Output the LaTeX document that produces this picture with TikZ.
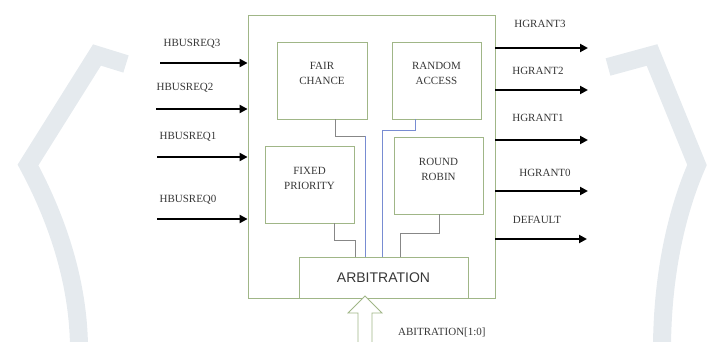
\documentclass[tikz,border=0pt]{standalone}
\usepackage{fontspec}
\setmainfont{Liberation Serif}
\newfontfamily\arbfont{Liberation Sans}
\usetikzlibrary{arrows.meta,positioning}
\definecolor{boxgreen}{RGB}{160,182,135}
\definecolor{wirebl}{RGB}{120,140,210}
\definecolor{wiregr}{RGB}{135,135,135}
\definecolor{wmark}{RGB}{229,234,238}
\definecolor{txtgr}{RGB}{55,55,55}

\begin{document}
\begin{tikzpicture}[x=1pt,y=-1pt,
    blk/.style={draw=boxgreen,line width=0.8pt,minimum width=89pt,minimum height=77pt},
    lab/.style={font=\fontsize{11}{15}\selectfont,text=txtgr,align=center},
    sig/.style={line width=2.2pt,-{Triangle[length=8pt,width=8pt]}},
    blink/.style={draw=wirebl,line width=0.6pt},
    glink/.style={draw=wiregr,line width=0.6pt}]
    \tikzstyle{every node}+=[inner sep=0pt]
    \useasboundingbox (0,0) rectangle (717,342);
    \begin{scope}
    \clip (0,0) rectangle (717,342);
    \draw [wmark,line width=18pt,line join=miter] (126,64) -- (97,55) -- (28,165) .. controls (55,215) and (79,280) .. (79,350);
    \draw [wmark,line width=18pt,line join=miter] (608,67) -- (652,55) -- (697,165) .. controls (675,215) and (662,280) .. (662,350);
    \end{scope}
    \node [draw=boxgreen,line width=0.8pt,minimum width=247pt,minimum height=283pt] (outer) at (371.5,156.5) {};
    \node [blk,minimum width=90pt] (fair) at (322,80.5) {};
    \node [blk] (rand) at (436.5,80.5) {};
    \node [blk] (fixed) at (309.5,184.5) {};
    \node [blk] (robin) at (438.5,175.5) {};
    \node [blk,minimum width=169pt,minimum height=41pt,font=\arbfont\fontsize{14}{16}\selectfont,text=txtgr] (arb) at (383.5,277.5) {ARBITRATION};
    \node [lab] (fairt) at ([yshift=-32pt]fair.north) {FAIR\\CHANCE};
    \node [lab] (randt) at ([yshift=-32pt]rand.north) {RANDOM\\ACCESS};
    \node [lab] (fixedt) at ([yshift=-33pt]fixed.north) {FIXED\\PRIORITY};
    \node [lab] (robint) at ([yshift=-33pt]robin.north) {ROUND\\ROBIN};
    \coordinate (fcA) at (335,136);
    \coordinate (fcB) at (365,136);
    \draw [glink] (fair.south -| fcA) -- (fcA) -- (fcB);
    \draw [blink] (fcB) -- (fcB |- arb.north);
    \coordinate (raA) at (415,130);
    \coordinate (raB) at (382,130);
    \draw [blink] (rand.south -| raA) -- (raA) -- (raB) -- (raB |- arb.north);
    \coordinate (fpA) at (334,240);
    \coordinate (fpB) at (355,240);
    \draw [glink] (fixed.south -| fpA) -- (fpA) -- (fpB) -- (fpB |- arb.north);
    \coordinate (rrA) at (439,233);
    \coordinate (rrB) at (400,233);
    \draw [glink] (robin.south -| rrA) -- (rrA) -- (rrB) -- (rrB |- arb.north);
    \coordinate (req3) at (160,63);
    \coordinate (req2) at (156,109);
    \coordinate (req1) at (157,157);
    \coordinate (req0) at (157,219);
    \draw [sig] (req3) -- (req3 -| outer.west);
    \draw [sig] (req2) -- (req2 -| outer.west);
    \draw [sig] (req1) -- (req1 -| outer.west);
    \draw [sig] (req0) -- (req0 -| outer.west);
    \node [lab] (req3l) at (192,44) {HBUSREQ3};
    \node [lab] (req2l) at (185,88) {HBUSREQ2};
    \node [lab] (req1l) at (188,137) {HBUSREQ1};
    \node [lab] (req0l) at (188,200) {HBUSREQ0};
    \coordinate (gnt3) at (588,48);
    \coordinate (gnt2) at (588,90);
    \coordinate (gnt1) at (588,140);
    \coordinate (gnt0) at (588,191);
    \coordinate (dflt) at (587,239);
    \draw [sig] (gnt3 -| outer.east) -- (gnt3);
    \draw [sig] (gnt2 -| outer.east) -- (gnt2);
    \draw [sig] (gnt1 -| outer.east) -- (gnt1);
    \draw [sig] (gnt0 -| outer.east) -- (gnt0);
    \draw [sig] (dflt -| outer.east) -- (dflt);
    \node [lab] (gnt3l) at (540,24) {HGRANT3};
    \node [lab] (gnt2l) at (538,71) {HGRANT2};
    \node [lab] (gnt1l) at (538,118) {HGRANT1};
    \node [lab] (gnt0l) at (545,173) {HGRANT0};
    \node [lab] (dfltl) at (537,220) {DEFAULT};
    \coordinate (ain) at (365,296);
    \draw [boxgreen,line width=0.8pt,fill=white] (ain) -- ++(17,17) -- ++(-10,0) -- ++(0,32) -- ++(-14,0) -- ++(0,-32) -- ++(-10,0) -- cycle;
    \node [lab,anchor=west] (ainl) at (398,332) {ABITRATION[1:0]};
\end{tikzpicture}
\end{document}
